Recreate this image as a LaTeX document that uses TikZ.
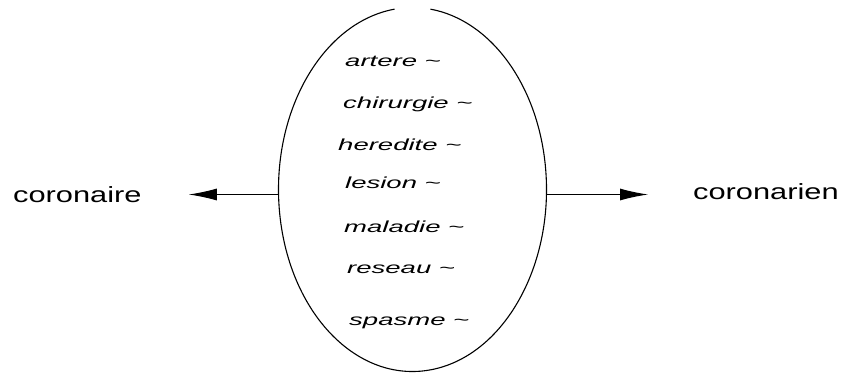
\documentclass[tikz,border=0pt]{standalone}
\usepackage{fontspec}
\setmainfont{Liberation Sans}
% wide sans faces for the end terms and the inner words
\newfontfamily\labelfont[FakeStretch=1.4]{Liberation Sans}
\newfontfamily\wordfont[FakeStretch=1.72]{Liberation Sans}
\usetikzlibrary{arrows.meta,shapes.geometric}
\begin{document}
\begin{tikzpicture}[x=1pt,y=1pt,
  term/.style={inner sep=0pt, anchor=base west, font=\labelfont\fontsize{22}{26}\selectfont},
  word/.style={inner sep=0pt, anchor=base west, font=\wordfont\itshape\fontsize{16}{19}\selectfont},
  link/.style={line width=1pt, -{Latex[length=28pt,width=12pt]}}]
\useasboundingbox (0,0) rectangle (850,373);

% the set of co-occurring words, an ellipse open at the top
\node[ellipse, minimum width=268pt, minimum height=364pt, inner sep=0pt] (ell) at (412.5,183.5) {};
\draw[line width=1.1pt] ([shift={(97.7:134 and 182)}]ell.center)
  arc[start angle=97.7, end angle=442.3, x radius=134, y radius=182];

\node[word] (w1) at (345,306) {artere \string~};
\node[word] (w2) at (343,265) {chirurgie \string~};
\node[word] (w3) at (338,223) {heredite \string~};
\node[word] (w4) at (345,185) {lesion \string~};
\node[word] (w5) at (344,141) {maladie \string~};
\node[word] (w6) at (347,100) {reseau \string~};
\node[word] (w7) at (349,48)  {spasme \string~};

% the two terms
\node[term] (left)  at (13,171)  {coronaire};
\node[term] (right) at (693,174) {coronarien};

\draw[link, shorten >=47pt] ([yshift=-5pt]ell.west) -- ([yshift=-5pt]ell.west -| left.east);
\draw[link, shorten >=45pt] ([yshift=-5pt]ell.east) -- ([yshift=-5pt]ell.east -| right.west);
\end{tikzpicture}
\end{document}
